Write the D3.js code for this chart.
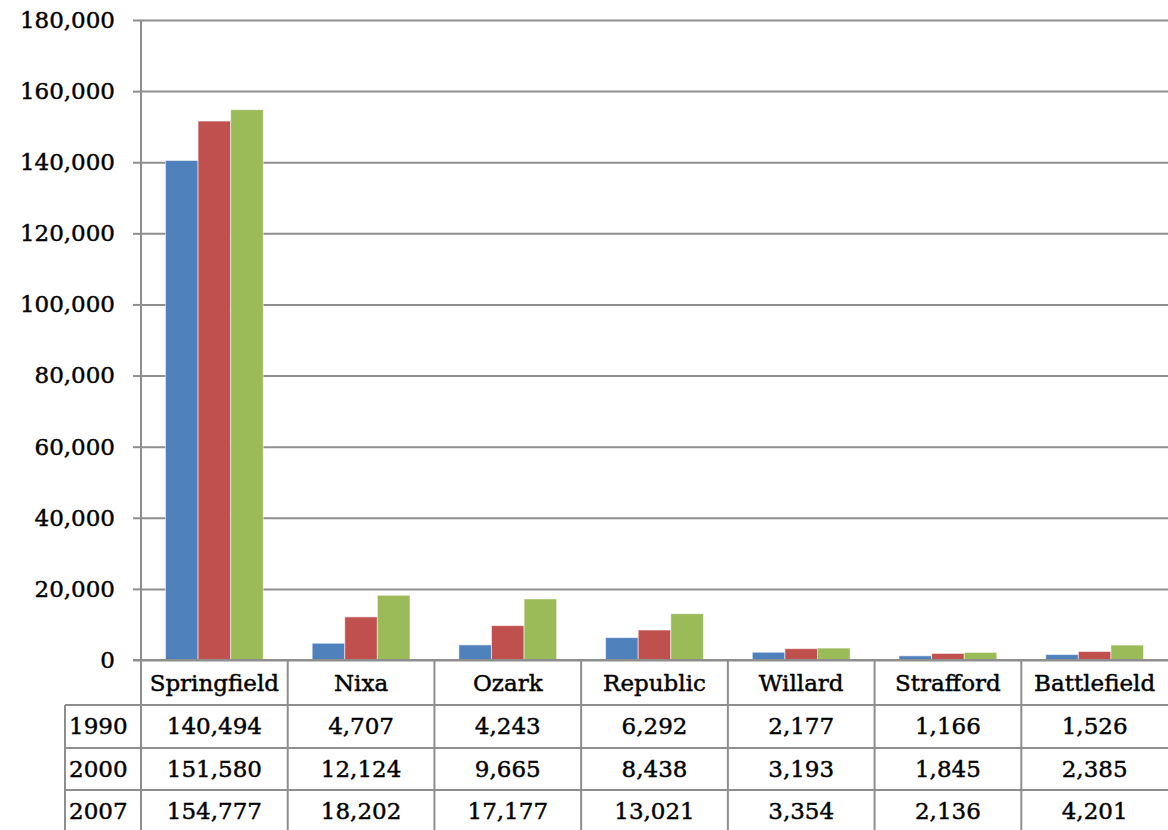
<!DOCTYPE html>
<html>
<head>
<meta charset="utf-8">
<script src="https://cdn.jsdelivr.net/npm/d3@7"></script>
<style>
  html, body { margin: 0; padding: 0; background: #ffffff; }
  svg { display: block; font-family: "DejaVu Serif", serif; }
  svg text { fill: #000; stroke: #000; stroke-width: 0.45px; }
</style>
</head>
<body>
<svg id="chart" width="1168" height="830"></svg>
<script>
// Population of Springfield-area cities
const cities = ["Springfield", "Nixa", "Ozark", "Republic", "Willard", "Strafford", "Battlefield"];
const years = ["1990", "2000", "2007"];
const pop1990 = [140494, 4707, 4243, 6292, 2177, 1166, 1526];
const pop2000 = [151580, 12124, 9665, 8438, 3193, 1845, 2385];
const pop2007 = [154777, 18202, 17177, 13021, 3354, 2136, 4201];
const yTicks = [0, 20000, 40000, 60000, 80000, 100000, 120000, 140000, 160000, 180000];
const seriesColors = ["#4f81bd", "#c0504d", "#9bbb59"];

const seriesValues = [pop1990, pop2000, pop2007];

const svg = d3.select("#chart");
const W = 1168, H = 830;
const plot = { left: 141, right: 1168, top: 20, bottom: 660 };
const lineColor = "#8e8e8e";
const fontSize = 23;

const x0 = d3.scaleBand().domain(cities).range([plot.left, plot.right]).padding(0);
const catW = x0.bandwidth();
const barW = catW / 4.5; // gap width 150% of a bar
const x1 = d3.scaleBand().domain(years).range([barW * 0.75, catW - barW * 0.75]).padding(0);
const y = d3.scaleLinear().domain([0, 180000]).range([plot.bottom, plot.top]);

// Horizontal gridlines
const grid = svg.append("g")
  .attr("transform", `translate(${plot.left},0)`)
  .call(d3.axisLeft(y).tickValues(yTicks).tickSize(-(plot.right - plot.left)).tickFormat(""));
grid.select(".domain").remove();
grid.selectAll(".tick line").attr("stroke", lineColor).attr("stroke-width", 2);

// Bars
const rows = cities.map((c, i) => ({ city: c, vals: years.map((yr, k) => ({ year: yr, k, v: seriesValues[k][i] })) }));
svg.append("g").selectAll("g")
  .data(rows)
  .join("g")
  .attr("transform", d => `translate(${x0(d.city)},0)`)
  .selectAll("rect")
  .data(d => d.vals)
  .join("rect")
  .attr("x", d => x1(d.year))
  .attr("y", d => y(d.v))
  .attr("width", x1.bandwidth())
  .attr("height", d => y(0) - y(d.v))
  .attr("fill", d => seriesColors[d.k])
  .attr("stroke", "rgba(255,255,255,0.55)")
  .attr("stroke-width", 1);

// Y axis with tick labels
const yAxis = svg.append("g")
  .attr("transform", `translate(${plot.left},0)`)
  .call(d3.axisLeft(y).tickValues(yTicks).tickSize(8).tickPadding(18).tickFormat(d3.format(",")));
yAxis.select(".domain").remove();
yAxis.selectAll(".tick line").attr("stroke", lineColor).attr("stroke-width", 2);
yAxis.selectAll(".tick text")
  .attr("font-family", "DejaVu Serif, serif")
  .attr("font-size", fontSize)
  .attr("fill", "#000");

// Data table under the plot
const table = svg.append("g");
const headerBottom = 705, rowBottoms = [748, 790, 832];
const labelLeft = 65;

// vertical axis line runs through the table
table.append("line")
  .attr("x1", plot.left).attr("x2", plot.left)
  .attr("y1", plot.top).attr("y2", H)
  .attr("stroke", lineColor).attr("stroke-width", 2);

// column separators
table.selectAll("line.col")
  .data(cities.slice(1))
  .join("line")
  .attr("class", "col")
  .attr("x1", d => x0(d)).attr("x2", d => x0(d))
  .attr("y1", plot.bottom).attr("y2", H)
  .attr("stroke", lineColor).attr("stroke-width", 2);

// row label column edge
table.append("line")
  .attr("x1", labelLeft).attr("x2", labelLeft)
  .attr("y1", headerBottom).attr("y2", H)
  .attr("stroke", lineColor).attr("stroke-width", 2);

// horizontal rules
table.selectAll("line.row")
  .data([headerBottom, rowBottoms[0], rowBottoms[1]])
  .join("line")
  .attr("class", "row")
  .attr("x1", labelLeft).attr("x2", plot.right)
  .attr("y1", d => d).attr("y2", d => d)
  .attr("stroke", lineColor).attr("stroke-width", 2);

// baseline
table.append("line")
  .attr("x1", plot.left - 8).attr("x2", plot.right)
  .attr("y1", plot.bottom).attr("y2", plot.bottom)
  .attr("stroke", lineColor).attr("stroke-width", 2);

// category header
table.selectAll("text.cat")
  .data(cities)
  .join("text")
  .attr("class", "cat")
  .attr("x", d => x0(d) + catW / 2)
  .attr("y", (plot.bottom + headerBottom) / 2)
  .attr("dy", "0.35em")
  .attr("text-anchor", "middle")
  .attr("font-size", fontSize)
  .text(d => d);

const fmt = d3.format(",");
const rowTops = [headerBottom, rowBottoms[0], rowBottoms[1]];
years.forEach((yr, k) => {
  const cy = (rowTops[k] + Math.min(rowBottoms[k], rowTops[k] + 42)) / 2;
  table.append("text")
    .attr("x", labelLeft + 4)
    .attr("y", cy)
    .attr("dy", "0.35em")
    .attr("font-size", fontSize)
    .text(yr);
  table.selectAll(`text.v${yr}`)
    .data(cities.map((c, i) => ({ c, v: seriesValues[k][i] })))
    .join("text")
    .attr("class", `v${yr}`)
    .attr("x", d => x0(d.c) + catW / 2)
    .attr("y", cy)
    .attr("dy", "0.35em")
    .attr("text-anchor", "middle")
    .attr("font-size", fontSize)
    .text(d => fmt(d.v));
});
</script>
</body>
</html>
